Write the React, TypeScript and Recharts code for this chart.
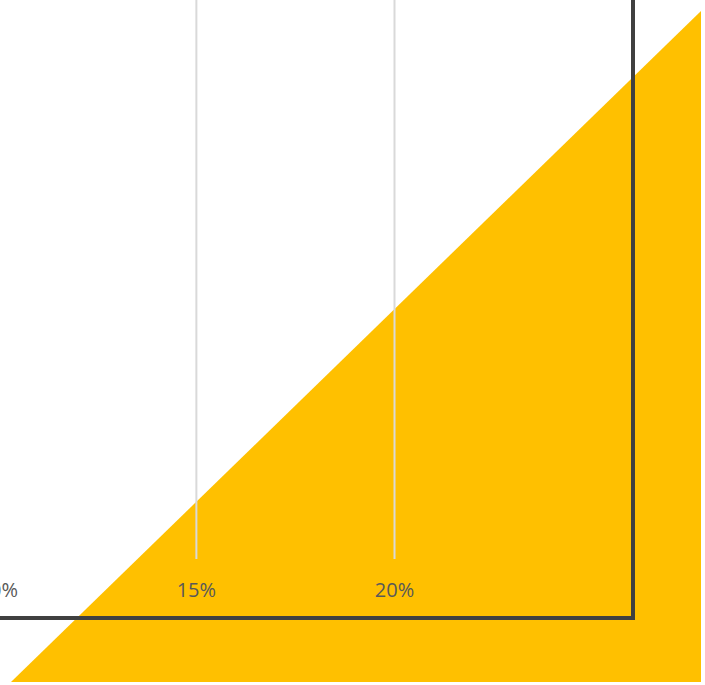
import { Area, CartesianGrid, ComposedChart, XAxis, YAxis } from "recharts";

// percent axis — only the right part of the chart is in view
const shareTicks = [0, 5, 10, 15, 20];
const shareDomain: [number, number] = [0, 24];

// yellow wedge sitting behind the chart frame
const wedgeX = [0, 1];
const wedgeY = [0, 1];

const wedgeData = wedgeX.map((x, i) => ({ x, y: wedgeY[i] }));
const axisData = shareTicks.map((share) => ({ share }));

const FONT = '"Open Sans", "Segoe UI", sans-serif';

export default function App() {
  return (
    <div
      style={{
        position: "fixed",
        left: 0,
        top: 0,
        width: 705,
        height: 685,
        overflow: "hidden",
        background: "#fff",
      }}
    >
      {/* ── background wedge ─────────────────────── */}
      <div style={{ position: "absolute", left: 0, top: 0 }}>
        <ComposedChart
          width={705}
          height={685}
          data={wedgeData}
          margin={{ top: 11, right: 4, bottom: 3, left: 11 }}
        >
          <XAxis dataKey="x" type="number" domain={[0, 1]} hide />
          <YAxis type="number" domain={[0, 1]} hide />
          <Area
            dataKey="y"
            type="linear"
            fill="#FFC000"
            fillOpacity={1}
            stroke="none"
            dot={false}
            activeDot={false}
            isAnimationActive={false}
          />
        </ComposedChart>
      </div>

      {/* ── chart frame, gridlines and tick labels ── */}
      {/* the box runs off the top/left edge; only its right and bottom border show */}
      <div
        style={{
          position: "absolute",
          left: -480,
          top: -100,
          width: 1115,
          height: 720,
          boxSizing: "border-box",
          border: "4px solid #404040",
        }}
      >
        <ComposedChart
          width={1107}
          height={712}
          data={axisData}
          margin={{ top: 10, right: 78, bottom: 27, left: 78 }}
        >
          {/* syncWithTicks: no extra lines at the plot edges */}
          <CartesianGrid horizontal={false} syncWithTicks stroke="#D9D9D9" strokeWidth={2} />
          <XAxis
            dataKey="share"
            type="number"
            domain={shareDomain}
            ticks={shareTicks}
            allowDataOverflow
            interval={0}
            height={30}
            axisLine={false}
            tickLine={false}
            tickSize={0}
            tickMargin={24}
            tickFormatter={(v: number) => `${v}%`}
            tick={{ fill: "#595959", fontSize: 20, fontFamily: FONT }}
          />
          <YAxis type="number" domain={[0, 1]} allowDataOverflow hide />
        </ComposedChart>
      </div>
    </div>
  );
}
